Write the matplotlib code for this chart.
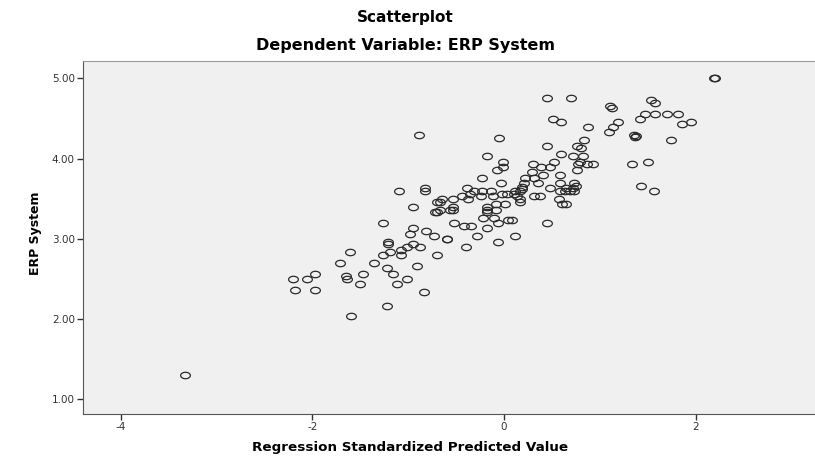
import matplotlib
matplotlib.use("Agg")
import matplotlib.pyplot as plt
from matplotlib.path import Path
import numpy as np

# Regression standardized predicted value (x) vs ERP System (y)
pred = [2.19, 2.20, 1.53, 1.57, 1.47, 1.57, 1.70, 1.81, 1.42, 1.86,
        1.95, 1.36, 1.37, 1.38, 1.74, 1.33, 1.50, 1.43, 1.56, 0.45,
        0.70, 1.11, 1.13, 0.51, 0.59, 1.19, 0.88, 1.14, 1.09, -0.89,
        -0.05, 0.83, 0.76, 0.45, 0.80, 0.59, -0.18, 0.72, 0.82, -0.01,
        0.52, 0.79, 0.77, 0.86, 0.93, 0.30, -0.01, -0.07, 0.39, 0.48,
        0.76, 0.29, 0.41, 0.58, -0.23, 0.22, 0.31, -0.03, 0.21, 0.35,
        0.58, 0.73, 0.75, 0.72, -0.39, -0.82, -0.82, -1.10, 0.19, 0.19,
        0.17, 0.48, 0.58, 0.64, 0.65, 0.69, 0.73, -0.31, -0.23, -0.14,
        -0.35, -0.24, -0.12, -0.02, 0.03, 0.11, 0.10, 0.13, 0.17, 0.17,
        -0.44, -0.38, -0.53, -0.65, -0.67, -0.70, 0.31, 0.38, 0.57, 0.60,
        0.65, -0.08, 0.01, -0.95, -0.53, -0.53, -0.56, -0.67, -0.70, -0.72,
        -0.18, -0.18, -0.18, -0.08, -0.22, -0.11, -0.06, 0.04, 0.08, -1.26,
        -0.52, -0.42, -0.34, -0.18, 0.45, -0.95, -0.98, -0.81, -0.73, -0.60,
        -0.60, -0.28, 0.11, -0.06, -0.40, -0.70, -0.91, -1.21, -1.21, -0.95,
        -0.88, -1.08, -1.19, -1.08, -1.26, -1.22, -1.16, -1.01, -1.12, -0.84,
        -1.22, -1.60, -1.97, -2.06, -2.20, -2.18, -1.97, -1.65, -1.64, -1.47,
        -1.50, -1.61, -1.71, -1.36, -1.01, -3.33]
erp = [5.00, 5.00, 4.73, 4.69, 4.56, 4.56, 4.56, 4.56, 4.49, 4.43,
       4.46, 4.30, 4.27, 4.28, 4.23, 3.93, 3.96, 3.66, 3.59, 4.76,
       4.76, 4.66, 4.63, 4.49, 4.46, 4.46, 4.39, 4.39, 4.33, 4.29,
       4.26, 4.23, 4.16, 4.16, 4.13, 4.06, 4.03, 4.03, 4.03, 3.96,
       3.96, 3.96, 3.93, 3.93, 3.93, 3.93, 3.89, 3.86, 3.89, 3.89,
       3.86, 3.83, 3.79, 3.79, 3.76, 3.76, 3.76, 3.69, 3.69, 3.69,
       3.69, 3.69, 3.66, 3.63, 3.63, 3.63, 3.59, 3.59, 3.65, 3.62,
       3.59, 3.63, 3.59, 3.59, 3.63, 3.59, 3.59, 3.59, 3.59, 3.59,
       3.56, 3.53, 3.53, 3.56, 3.56, 3.59, 3.56, 3.53, 3.49, 3.46,
       3.53, 3.49, 3.49, 3.49, 3.46, 3.46, 3.53, 3.53, 3.49, 3.43,
       3.43, 3.43, 3.43, 3.39, 3.39, 3.36, 3.36, 3.36, 3.33, 3.33,
       3.39, 3.36, 3.33, 3.36, 3.26, 3.26, 3.19, 3.23, 3.23, 3.19,
       3.19, 3.16, 3.16, 3.13, 3.19, 3.13, 3.06, 3.09, 3.03, 2.99,
       3.00, 3.03, 3.03, 2.96, 2.89, 2.79, 2.66, 2.96, 2.93, 2.93,
       2.89, 2.86, 2.83, 2.79, 2.79, 2.63, 2.56, 2.49, 2.43, 2.33,
       2.16, 2.03, 2.56, 2.49, 2.49, 2.36, 2.36, 2.53, 2.49, 2.56,
       2.43, 2.83, 2.69, 2.69, 2.89, 1.30]

xticks = [-4, -2, 0, 2]
yticks = [1, 2, 3, 4, 5]
ytick_labels = ["1.00", "2.00", "3.00", "4.00", "5.00"]

# flattened circle, the source image is stretched sideways
t = np.linspace(0, 2 * np.pi, 60)
ellipse = Path(np.column_stack([np.cos(t), 0.66 * np.sin(t)]), closed=True)

fig = plt.figure(figsize=(8.15, 4.61), dpi=100)
ax = fig.add_axes([0.102, 0.102, 0.898, 0.766])
ax.set_facecolor("#f0f0f0")

ax.plot(pred, erp, linestyle="none", marker=ellipse, markersize=7.0,
        markerfacecolor="none", markeredgecolor="#2a2a2a", markeredgewidth=0.9)

ax.set_xlim(-4.39, 3.243)
ax.set_ylim(0.81, 5.22)
ax.set_xticks(xticks)
ax.set_xticklabels([str(v) for v in xticks])
ax.set_yticks(yticks)
ax.set_yticklabels(ytick_labels)
ax.tick_params(axis="both", direction="out", length=4, width=1,
               colors="#333333", labelsize=7.5, pad=2)

ax.spines["right"].set_visible(False)
ax.spines["top"].set_color("#999999")
ax.spines["left"].set_color("#555555")
ax.spines["bottom"].set_color("#555555")

fig.text(0.497, 0.961, "Scatterplot", ha="center", va="center",
         fontsize=11, fontweight="bold")
fig.text(0.497, 0.902, "Dependent Variable: ERP System", ha="center",
         va="center", fontsize=11.5, fontweight="bold")
fig.text(0.503, 0.030, "Regression Standardized Predicted Value",
         ha="center", va="center", fontsize=9.7, fontweight="bold")
fig.text(0.043, 0.495, "ERP System", ha="center", va="center",
         rotation=90, fontsize=9, fontweight="bold")

fig.savefig("out.png", dpi=100)
